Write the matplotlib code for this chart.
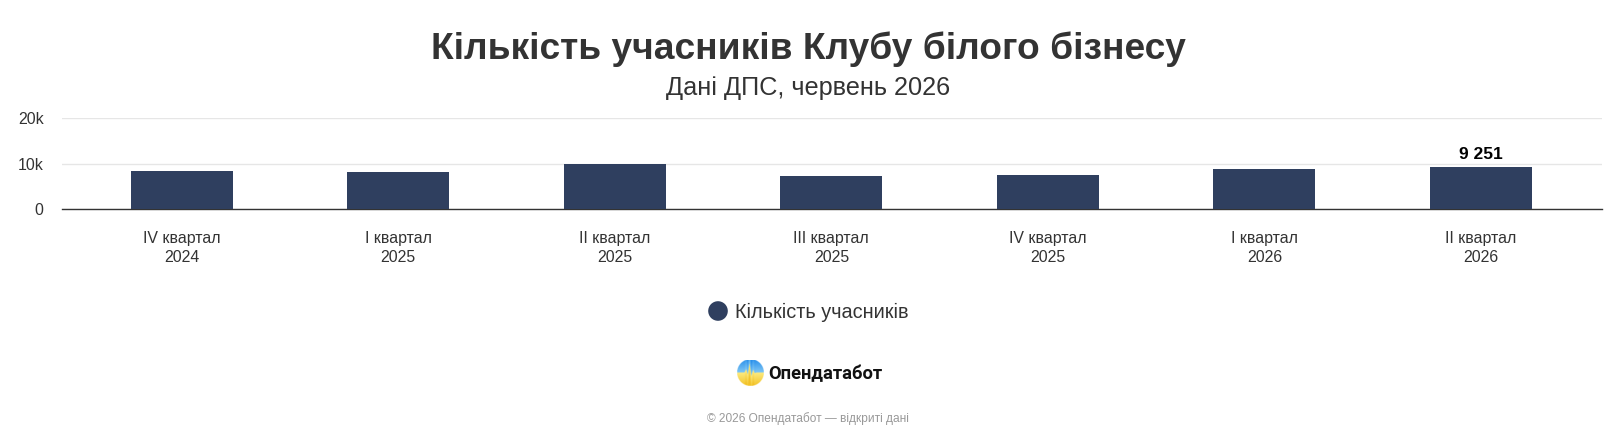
import numpy as np
import matplotlib
matplotlib.use("Agg")
from matplotlib import pyplot as plt
from matplotlib.patches import Circle

categories = ["IV квартал\n2024", "I квартал\n2025", "II квартал\n2025", "III квартал\n2025",
              "IV квартал\n2025", "I квартал\n2026", "II квартал\n2026"]
members = [8450, 8200, 9850, 7330, 7550, 8960, 9251]
yticks = [0, 10000, 20000]
ytick_labels = ["0", "10k", "20k"]

plt.rcParams['font.family'] = ['Liberation Sans', 'DejaVu Sans']

W, H = 1610, 434
fig = plt.figure(figsize=(W / 100, H / 100), dpi=100)

# plot area in pixels: x 62..1602, y 118.3..209.3
ax = fig.add_axes([62 / W, (H - 209.3) / H, (1602 - 62) / W, (209.3 - 118.3) / H])
x = np.arange(len(categories))
ax.bar(x, members, width=0.471, color="#2f3f5f", zorder=3)
ax.set_ylim(0, 20000)
ax.set_xlim(-0.553, 6.559)
ax.set_yticks(yticks)
ax.set_yticklabels(ytick_labels, fontsize=11.4, color="#333333")
ax.set_xticks(x)
ax.set_xticklabels(categories, fontsize=11.4, color="#333333", linespacing=1.32)
ax.tick_params(axis="both", length=0)
ax.tick_params(axis="x", pad=15.5)
ax.tick_params(axis="y", pad=13.3)
for s in ["top", "right", "left"]:
    ax.spines[s].set_visible(False)
ax.spines["bottom"].set_color("#333333")
ax.spines["bottom"].set_linewidth(1)
ax.grid(axis="y", color="#e6e6e6", linewidth=1, zorder=0)
ax.set_axisbelow(True)

# label on last bar only
ax.annotate(f"{members[-1]:,}".replace(",", " "), (x[-1], members[-1]),
            xytext=(0, 4), textcoords="offset points", ha="center", va="bottom",
            fontsize=12.5, fontweight="bold", color="#000000")

fig.text(808 / W, 1 - 59.3 / H, "Кількість учасників Клубу білого бізнесу", ha="center", va="baseline",
         fontsize=26.7, fontweight="bold", color="#333333")
fig.text(808.5 / W, 1 - 88 / H, "Дані ДПС, червень 2026", ha="center", va="center",
         fontsize=18.2, color="#333333")

# legend
lg = fig.add_axes([708 / W, 1 - 321 / H, 20 / W, 20 / H])
lg.set_xlim(-1, 1)
lg.set_ylim(-1, 1)
lg.axis("off")
lg.add_patch(Circle((0, 0), 0.98, facecolor="#2f3f5f", edgecolor="none"))
fig.text(735 / W, 1 - 312 / H, "Кількість учасників", ha="left", va="center",
         fontsize=14.3, color="#333333")

# logo: blue sky over yellow field, split by a pulse line
lax = fig.add_axes([736.5 / W, 1 - 386.5 / H, 27 / W, 27 / H])
lax.set_xlim(-1, 1)
lax.set_ylim(-1, 1)
lax.axis("off")
n = 120
gx, gy = np.meshgrid(np.linspace(-1, 1, n), np.linspace(1, -1, n))
wx = [-1, -0.45, -0.32, -0.2, -0.07, 0.06, 0.2, 0.32, 0.45, 1]
wy = [0.0, 0.0, 0.25, -0.15, 0.7, -0.25, 0.2, -0.05, 0.0, 0.0]
wave = np.interp(gx, wx, wy)
img = np.zeros((n, n, 4))
t_up = np.clip((gy - wave) / 1.0, 0, 1)[..., None]
t_dn = np.clip((wave - gy) / 1.0, 0, 1)[..., None]
blue_lo, blue_hi = np.array([0.50, 0.78, 0.96]), np.array([0.16, 0.56, 0.92])
yel_lo, yel_hi = np.array([0.99, 0.92, 0.50]), np.array([0.95, 0.76, 0.15])
sky = blue_lo + (blue_hi - blue_lo) * t_up
field = yel_lo + (yel_hi - yel_lo) * t_dn
img[..., :3] = np.where((gy > wave)[..., None], sky, field)
img[..., 3] = (gx ** 2 + gy ** 2 <= 1).astype(float)
lax.imshow(img, extent=[-1, 1, -1, 1], aspect="auto", interpolation="bilinear")
fig.text(768 / W, 1 - 374 / H, "Опендатабот", ha="left", va="center", fontsize=13.2,
         fontweight="bold", color="#111111", family=["Roboto", "DejaVu Sans"])

fig.text(808 / W, 1 - 419 / H, "© 2026 Опендатабот — відкриті дані", ha="center", va="center",
         fontsize=8.6, color="#999999")

fig.savefig("out.png", dpi=100, facecolor="white")
